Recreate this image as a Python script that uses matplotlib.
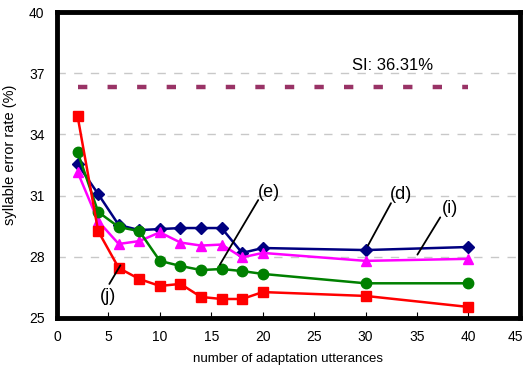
import matplotlib
matplotlib.use("Agg")
import matplotlib.pyplot as plt
from matplotlib.transforms import ScaledTranslation

plt.rcParams['font.family'] = ['Liberation Sans', 'DejaVu Sans']

x = [2, 4, 6, 8, 10, 12, 14, 16, 18, 20, 30, 40]
series_d = [32.55, 31.08, 29.56, 29.31, 29.36, 29.41, 29.41, 29.41, 28.19, 28.43, 28.33, 28.48]
series_i = [32.16, 29.75, 28.63, 28.77, 29.20, 28.70, 28.55, 28.60, 27.97, 28.19, 27.80, 27.90]
series_e = [33.14, 30.20, 29.46, 29.26, 27.80, 27.55, 27.35, 27.40, 27.30, 27.16, 26.70, 26.70]
series_j = [34.90, 29.26, 27.45, 26.91, 26.57, 26.67, 26.03, 25.93, 25.93, 26.27, 26.08, 25.54]
si_value = 36.31
si_x = [2, 40]
yticks = [25, 28, 31, 34, 37, 40]
xticks = [0, 5, 10, 15, 20, 25, 30, 35, 40, 45]

fig = plt.figure(figsize=(5.23, 3.68), dpi=100)
ax = fig.add_axes([0.109, 0.136, 0.885, 0.831])

for yv in [28, 31, 34, 37]:
    ax.axhline(yv, color='#c8c8c8', lw=1, dashes=(6, 6), zorder=0)

ax.plot(si_x, [si_value, si_value], color='#993366', lw=3.2, dashes=(2.1, 4.55), solid_capstyle='butt', dash_capstyle='butt')
ax.text(32.6, 37.4, 'SI: 36.31%', fontsize=12, ha='center', va='center')

ax.plot(x, series_d, color='#000080', marker='D', ms=6, lw=1.8)
ax.plot(x, series_i, color='#FF00FF', marker='^', ms=7.5, lw=1.8)
ax.plot(x, series_e, color='#008000', marker='o', ms=7.5, lw=1.8)
ax.plot(x, series_j, color='#FF0000', marker='s', ms=7, lw=1.8)

def annot(label, xy, xytext, tx):
    ax.annotate('', xy=xy, xytext=xytext, arrowprops=dict(arrowstyle='-', color='black', lw=1.3))
    ax.text(tx[0], tx[1], label, fontsize=13, ha='center', va='center')

annot('(j)', (6.3, 27.7), (4.95, 26.55), (4.95, 26.05))
annot('(e)', (15.7, 27.5), (19.7, 30.9), (20.6, 31.15))
annot('(d)', (30.1, 28.43), (32.6, 30.75), (33.4, 31.05))
annot('(i)', (34.9, 27.99), (37.4, 30.05), (38.2, 30.35))

ax.set_xlim(0, 45)
ax.set_ylim(25, 40)
ax.set_xticks(xticks)
ax.set_yticks(yticks)
ax.tick_params(axis='x', direction='in', length=4, labelsize=10, pad=9)
ax.tick_params(axis='y', length=0, labelsize=10, pad=9)
last = ax.get_xticklabels()[-1]
last.set_horizontalalignment('right')
last.set_transform(last.get_transform() + ScaledTranslation(3 / 100, 0, fig.dpi_scale_trans))
for s in ax.spines.values():
    s.set_linewidth(3.5)
ax.set_xlabel('number of adaptation utterances', fontsize=9.5)
ax.set_ylabel('syllable error rate (%)', fontsize=10.5)
ax.xaxis.set_label_coords(0.50, -0.116)
ax.yaxis.set_label_coords(-0.086, 0.533)

fig.savefig('out.png', dpi=100)
